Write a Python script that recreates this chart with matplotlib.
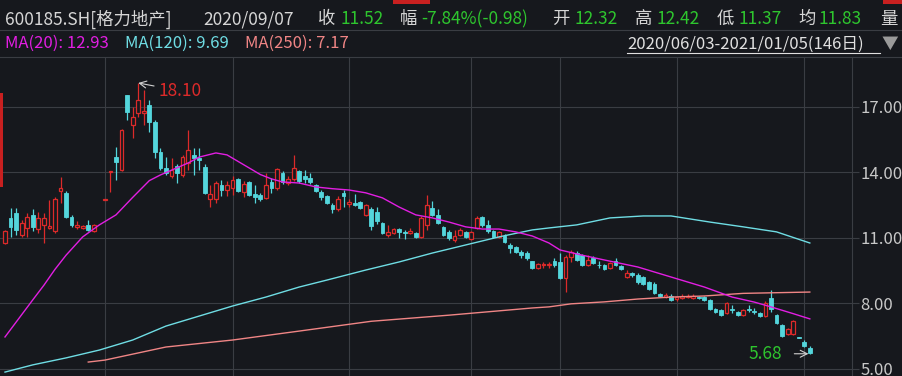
import numpy as np
import matplotlib
matplotlib.use('Agg')
import matplotlib.pyplot as plt
from matplotlib.lines import Line2D
from matplotlib.patches import Rectangle

# daily candles, 2020/06/03 - 2021/01/05 (146 trading days), NaN = suspended
nan = np.nan
opens = [10.76, 11.91, 12.14, 11.13, 11.45, 12.05, 11.40, 11.60, 11.45, 11.30,
         13.15, 13.05, 11.95, 11.50, 11.45, 11.59, 11.30, nan, 12.74, 14.00,
         14.70, 14.11, 17.55, 16.17, 16.72, 16.72, 17.09, 16.31, 14.94, 14.20,
         13.85, 14.30, 13.88, 14.43, 14.80, 14.66, 14.25, 12.80, 12.80, 13.42,
         13.20, 13.30, 13.70, 13.10, 13.56, 13.00, 12.95, 12.82, 13.55, 13.30,
         13.95, 13.50, 13.70, 14.05, 13.85, 13.75, 13.40, 13.10, 12.90, 12.50,
         12.30, 13.05, 12.55, 12.60, 12.64, 12.05, 12.32, 12.20, 11.68, 11.13,
         11.22, 11.40, 11.25, 11.20, 11.22, 11.04, 11.59, 12.37, 12.05, 11.50,
         11.27, 10.90, 11.13, 11.27, 10.95, 11.45, 11.95, 11.60, 11.30, 11.05,
         11.10, 10.65, 10.58, 10.35, 10.30, 9.94, 9.61, 9.75, 9.75, 9.95,
         9.89, 9.16, 10.10, 10.30, 10.20, 9.75, 10.05, 9.77, 9.75, 9.60,
         9.95, 9.70, 9.20, 9.40, 9.30, 9.20, 8.95, 8.90, 8.40, 8.30,
         8.35, 8.18, 8.25, 8.30, 8.25, 8.30, 8.30, 8.15, 7.74, 7.70,
         7.55, 7.75, 7.60, 7.46, 7.75, 7.65, 7.55, 7.42, 8.24, 7.45,
         7.00, 6.60, 6.60, 6.43, 6.20, 5.95]
highs = [11.35, 12.37, 12.37, 11.82, 12.14, 12.30, 12.20, 12.14, 12.75, 12.85,
         13.80, 13.15, 12.05, 11.75, 11.60, 11.80, 11.65, nan, 12.78, 14.05,
         15.17, 15.98, 17.55, 17.00, 18.10, 17.78, 17.32, 16.40, 15.10, 14.70,
         14.66, 14.40, 14.80, 15.95, 15.10, 15.10, 14.40, 13.40, 13.60, 13.65,
         13.60, 13.85, 13.75, 13.60, 13.60, 13.40, 13.05, 13.97, 13.75, 14.20,
         14.05, 13.85, 14.80, 14.10, 14.10, 13.95, 13.45, 13.20, 12.95, 12.60,
         12.90, 13.20, 12.80, 13.00, 12.70, 12.55, 12.42, 12.40, 11.70, 11.60,
         11.45, 11.45, 11.35, 11.45, 11.25, 12.00, 12.96, 12.70, 12.30, 11.55,
         11.35, 11.35, 11.45, 11.30, 11.30, 12.00, 12.00, 11.80, 11.35, 11.30,
         11.15, 10.75, 10.60, 10.45, 10.40, 9.95, 9.85, 9.90, 9.90, 10.05,
         10.30, 10.20, 10.45, 10.40, 10.25, 10.20, 10.15, 9.95, 9.80, 9.90,
         10.05, 9.75, 9.50, 9.45, 9.40, 9.25, 9.00, 8.95, 8.45, 8.45,
         8.40, 8.35, 8.40, 8.40, 8.40, 8.35, 8.35, 8.20, 7.80, 7.75,
         8.05, 7.90, 7.65, 7.75, 7.90, 7.78, 7.60, 8.10, 8.60, 7.50,
         7.05, 6.85, 7.25, 6.45, 6.30, 6.05]
lows = [10.70, 11.04, 11.13, 11.04, 11.04, 11.30, 11.20, 10.76, 11.40, 11.20,
        12.60, 11.90, 11.50, 11.40, 11.40, 11.30, 11.25, nan, 12.74, 13.10,
        13.65, 14.05, 16.40, 15.58, 16.54, 16.17, 15.85, 14.66, 14.11, 13.90,
        13.74, 13.50, 13.80, 14.11, 13.88, 14.11, 13.00, 12.41, 12.60, 12.90,
        12.90, 12.95, 13.10, 12.85, 12.90, 12.60, 12.70, 12.80, 13.05, 13.20,
        13.45, 13.40, 13.60, 13.50, 13.50, 13.45, 13.10, 12.75, 12.55, 12.15,
        12.25, 12.40, 12.40, 12.45, 12.30, 12.00, 11.37, 11.65, 11.15, 11.05,
        11.15, 11.00, 10.95, 11.15, 11.00, 10.98, 11.36, 12.00, 11.65, 11.10,
        10.90, 10.80, 11.10, 11.00, 10.90, 11.40, 11.50, 11.20, 11.00, 11.00,
        10.75, 10.30, 10.30, 10.05, 10.00, 9.55, 9.58, 9.60, 9.60, 9.65,
        9.10, 8.50, 9.90, 9.95, 9.70, 9.70, 9.80, 9.60, 9.50, 9.55,
        9.70, 9.50, 9.15, 9.20, 8.90, 8.85, 8.60, 8.40, 8.30, 8.25,
        8.10, 8.10, 8.20, 8.25, 8.20, 8.20, 8.10, 7.70, 7.55, 7.40,
        7.50, 7.55, 7.40, 7.40, 7.60, 7.50, 7.35, 7.35, 7.60, 7.05,
        6.45, 6.55, 6.55, 6.40, 6.00, 5.68]
closes = [11.31, 11.50, 11.36, 11.68, 11.95, 11.50, 11.90, 11.90, 11.55, 12.80,
          13.30, 11.95, 11.60, 11.60, 11.55, 11.36, 11.60, nan, 12.78, 14.04,
          14.48, 15.94, 16.77, 16.54, 17.32, 16.80, 16.31, 14.94, 14.20, 13.97,
          14.10, 13.97, 14.70, 15.03, 14.66, 14.57, 13.05, 13.00, 13.52, 13.19,
          13.42, 13.65, 13.15, 13.45, 12.96, 12.87, 12.80, 13.42, 13.30, 14.15,
          13.56, 13.70, 14.20, 13.60, 13.70, 13.55, 13.15, 12.85, 12.60, 12.30,
          12.80, 12.90, 12.62, 12.50, 12.37, 12.50, 11.52, 11.75, 11.22, 11.27,
          11.40, 11.27, 11.22, 11.30, 11.04, 11.90, 12.50, 12.05, 11.68, 11.13,
          11.00, 11.08, 11.36, 11.04, 11.27, 11.90, 11.59, 11.30, 11.05, 11.25,
          10.80, 10.55, 10.35, 10.20, 10.05, 9.61, 9.80, 9.78, 9.78, 9.75,
          9.16, 10.12, 10.35, 10.00, 9.75, 9.98, 9.85, 9.73, 9.55, 9.85,
          9.75, 9.55, 9.40, 9.28, 8.95, 8.90, 8.65, 8.45, 8.35, 8.38,
          8.15, 8.30, 8.35, 8.33, 8.35, 8.22, 8.15, 7.74, 7.60, 7.46,
          8.00, 7.68, 7.46, 7.70, 7.68, 7.58, 7.40, 8.00, 7.74, 7.10,
          6.50, 6.80, 7.20, 6.40, 6.05, 5.72]

# first trading day of each month (grid lines)
month_starts = [18, 41, 62, 84, 100, 121, 144]

# moving averages (day index, price)
ma20_idx = [0, 5, 7, 9, 11, 14, 17, 20, 23, 26, 28, 30, 33, 35, 38, 40, 42,
            44, 46, 48, 50, 53, 56, 59, 62, 65, 68, 71, 74, 77, 80, 83, 86, 89,
            92, 95, 98, 100, 104, 108, 114, 120, 126, 131, 135, 138, 142, 145]
ma20_val = [6.45, 8.15, 8.82, 9.55, 10.20, 11.04, 11.59, 12.05, 12.85, 13.62,
            13.88, 14.10, 14.43, 14.70, 14.89, 14.80, 14.50, 14.20, 13.90,
            13.70, 13.56, 13.51, 13.33, 13.25, 13.19, 13.06, 12.83, 12.41,
            12.05, 11.91, 11.72, 11.50, 11.40, 11.40, 11.27, 11.08, 10.76,
            10.44, 10.20, 9.98, 9.66, 9.20, 8.74, 8.28, 8.05, 7.83, 7.52, 7.28]
ma120_idx = [0, 5, 11, 17, 20, 23, 29, 35, 41, 47, 53, 58, 65, 71, 77, 83, 89,
             95, 98, 103, 109, 115, 120, 127, 133, 139, 145]
ma120_val = [4.84, 5.17, 5.49, 5.85, 6.08, 6.31, 6.95, 7.41, 7.87, 8.28, 8.74,
             9.06, 9.52, 9.89, 10.30, 10.67, 11.04, 11.36, 11.45, 11.59, 11.91,
             12.00, 12.00, 11.72, 11.50, 11.27, 10.76]
ma250_idx = [15, 18, 29, 41, 53, 66, 80, 95, 98, 102, 108, 114, 120, 126, 133, 145]
ma250_val = [5.30, 5.39, 5.99, 6.31, 6.72, 7.17, 7.45, 7.78, 7.83, 7.97, 8.06,
             8.19, 8.28, 8.33, 8.45, 8.51]

cur = 66  # 2020/09/07, day shown in the header
avg_price = 11.83

BG = '#16181d'
GRID = '#3a3d43'
RED = '#dc2a2a'
CYAN = '#54d6dc'
GREEN = '#2ec52e'
TXT = '#d6d6d6'

plt.rcParams['font.family'] = ['Noto Sans CJK SC', 'DejaVu Sans']

W, H = 902, 376
fig = plt.figure(figsize=(W / 100, H / 100), dpi=100, facecolor=BG)
ax = fig.add_axes([0, 0, 852 / W, (H - 57) / H])
ax.set_facecolor(BG)

o = np.array(opens)
h = np.array(highs)
l = np.array(lows)
c = np.array(closes)
x = np.arange(len(o))
ok = ~np.isnan(o)
up = ok & (c >= o)
dn = ok & (c < o)

# wicks
ax.vlines(x[up], l[up], h[up], color=RED, lw=0.9, zorder=2)
ax.vlines(x[dn], l[dn], h[dn], color=CYAN, lw=0.9, zorder=2)
# bodies: hollow red for up days, solid cyan for down days
body = np.maximum(np.abs(c - o), 0.03)
ax.bar(x[up], body[up], bottom=np.minimum(o, c)[up], width=0.68,
       facecolor=BG, edgecolor=RED, lw=0.9, zorder=3)
ax.bar(x[dn], body[dn], bottom=np.minimum(o, c)[dn], width=0.68,
       facecolor=CYAN, edgecolor=CYAN, lw=0.6, zorder=3)

ax.plot(ma120_idx, ma120_val, color='#6fdde4', lw=1.0, zorder=4)
ax.plot(ma250_idx, ma250_val, color='#f08585', lw=1.0, zorder=4)
ax.plot(ma20_idx, ma20_val, color='#e21ee2', lw=1.0, zorder=4)

# max / min markers
imax = int(np.nanargmax(h))
imin = int(np.nanargmin(l))
ax.annotate('%.2f' % h[imax], xy=(imax, h[imax]), xytext=(20, -8),
            textcoords='offset pixels', color=RED, fontsize=12.5,
            ha='left', va='center',
            arrowprops=dict(arrowstyle='->', color='#d0d0d0', lw=0.8,
                            shrinkA=1, shrinkB=0))
ax.annotate('%.2f' % l[imin], xy=(imin, l[imin]), xytext=(-28, 0),
            textcoords='offset pixels', color=GREEN, fontsize=12.5,
            ha='right', va='center',
            arrowprops=dict(arrowstyle='->', color='#d0d0d0', lw=0.8,
                            shrinkA=7, shrinkB=1))

ax.set_xlim(-0.9, 152.6)
ax.set_ylim(4.66, 19.29)
ax.set_xticks(month_starts)
ax.set_xticklabels([])
ax.set_yticks([5, 8, 11, 14, 17])
ax.yaxis.set_major_formatter(matplotlib.ticker.FormatStrFormatter('%.2f'))
ax.yaxis.tick_right()
ax.tick_params(axis='x', length=0)
ax.tick_params(axis='y', length=5, pad=1, colors=GRID, labelcolor='#c8c8c8',
               labelsize=12)
ax.grid(True, color=GRID, lw=0.8)
ax.set_axisbelow(True)
for s in ['left', 'top', 'bottom']:
    ax.spines[s].set_visible(False)
ax.spines['right'].set_color(GRID)


def px(xp, yp):
    return xp / W, 1 - yp / H


def ftext(xp, yp, s, color=TXT, size=12.5, **kw):
    fig.text(*px(xp, yp), s, color=color, fontsize=size, va='center',
             ha='left', **kw)


# header row 1
prev = c[cur - 1]
chg = c[cur] - prev
ftext(5, 19, '600185.SH[格力地产]')
ftext(203, 19, '2020/09/07')
ftext(318, 19, '收')
ftext(340, 19, '%.2f' % c[cur], GREEN)
ftext(400, 19, '幅')
ftext(421, 19, '%.2f%%(%.2f)' % (chg / prev * 100, chg), GREEN)
ftext(552, 19, '开')
ftext(574, 19, '%.2f' % o[cur], GREEN)
ftext(635, 19, '高')
ftext(656, 19, '%.2f' % h[cur], GREEN)
ftext(717, 19, '低')
ftext(738, 19, '%.2f' % l[cur], GREEN)
ftext(798, 19, '均')
ftext(819, 19, '%.2f' % avg_price, GREEN)
ftext(880, 19, '量')

# header row 2
ftext(5, 43, 'MA(20): 12.93', '#e21ee2', 12)
ftext(125, 43, 'MA(120): 9.69', '#6fdde4', 12)
ftext(245, 43, 'MA(250): 7.17', '#f08585', 12)
ftext(627, 44, '2020/06/03-2021/01/05(146日)', '#e0e0e0', 12)
fig.add_artist(Line2D([627 / W, 880 / W], [1 - 53 / H] * 2, color='#e0e0e0', lw=0.8))
ftext(882, 44, '▼', '#9a9a9a', 12)

# separators and small decorations
for yp in (30, 57):
    fig.add_artist(Line2D([0, 1], [1 - yp / H] * 2, color=GRID, lw=0.8))
fig.add_artist(Rectangle(px(0, 187), 3 / W, 94 / H, color='#c82020', lw=0))
fig.add_artist(Rectangle(px(393, 4), 37 / W, 4 / H, color='#c82020', lw=0))
fig.add_artist(Rectangle(px(883, 4), 19 / W, 4 / H, color='#c82020', lw=0))

plt.savefig('out.png', dpi=100, facecolor=BG)
plt.close()
